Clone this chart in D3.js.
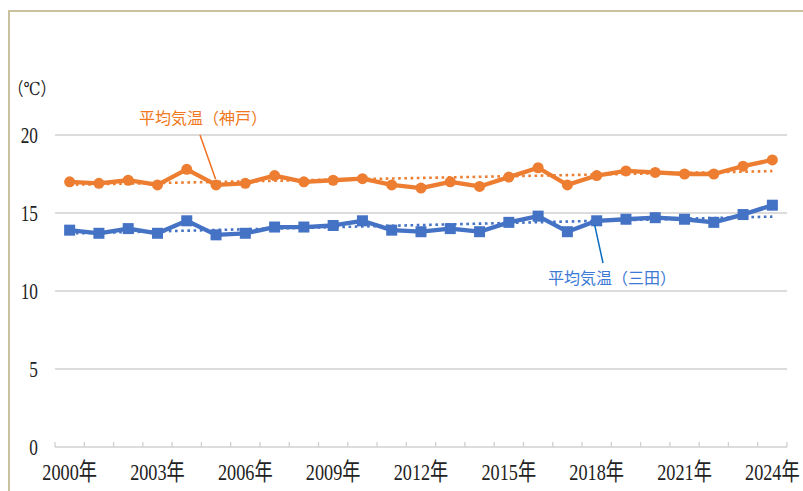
<!DOCTYPE html>
<html lang="ja">
<head>
<meta charset="utf-8">
<title>平均気温</title>
<script src="https://cdn.jsdelivr.net/npm/d3@7"></script>
<style>
  body { margin:0; background:#fff; }
  .num { font-family:"Liberation Serif","DejaVu Serif","Noto Sans CJK JP",serif; fill:#222; }
  .lbl { font-family:"Noto Sans CJK JP",sans-serif; font-size:16px; }
</style>
</head>
<body>
<script>
var years = ["2000","2001","2002","2003","2004","2005","2006","2007","2008","2009","2010","2011","2012",
             "2013","2014","2015","2016","2017","2018","2019","2020","2021","2022","2023","2024"]
var kobe  = [17.0,16.9,17.1,16.8,17.8,16.8,16.9,17.4,17.0,17.1,17.2,16.8,16.6,
             17.0,16.7,17.3,17.9,16.8,17.4,17.7,17.6,17.5,17.5,18.0,18.4]
var sanda = [13.9,13.7,14.0,13.7,14.5,13.6,13.7,14.1,14.1,14.2,14.5,13.9,13.8,
             14.0,13.8,14.4,14.8,13.8,14.5,14.6,14.7,14.6,14.4,14.9,15.5]
var yTicks = [0,5,10,15,20]
var xLabelYears = ["2000","2003","2006","2009","2012","2015","2018","2021","2024"]

var width = 803, height = 491
var padL = 55, padR = 787, padT = 135, padB = 447

var svg = d3.select("body").append("svg")
            .attr("width",width)
            .attr("height",height)

// frame
svg.append("rect")
   .attr("x",9).attr("y",11)
   .attr("width",width).attr("height",height)
   .attr("fill","none")
   .attr("stroke","#c9c29e")
   .attr("stroke-width",2)

var x = d3.scaleBand().domain(years).range([padL,padR])
var y = d3.scaleLinear().domain([0,20]).range([padB,padT])
function cx(d){ return x(d) + x.bandwidth()/2 }

// grid
svg.selectAll(".grid")
   .data(yTicks.filter(function(d){ return d>0 }))
   .enter().append("line")
   .attr("x1",padL).attr("x2",padR)
   .attr("y1",function(d){ return y(d) })
   .attr("y2",function(d){ return y(d) })
   .attr("stroke","#d0d0d0").attr("stroke-width",1.3)

// x axis line and ticks
svg.append("line")
   .attr("x1",padL).attr("x2",padR)
   .attr("y1",y(0)).attr("y2",y(0))
   .attr("stroke","#d0d0d0").attr("stroke-width",1.3)
var bounds = years.map(function(d){ return x(d) }).concat([padR])
svg.selectAll(".tick")
   .data(bounds)
   .enter().append("line")
   .attr("x1",function(d){ return d }).attr("x2",function(d){ return d })
   .attr("y1",y(0)).attr("y2",y(0)-5)
   .attr("stroke","#d0d0d0").attr("stroke-width",1.3)

// y labels (tall condensed serif)
svg.selectAll(".ylab")
   .data(yTicks)
   .enter().append("text")
   .attr("class","num")
   .attr("transform",function(d){ return "translate(38,"+(y(d)+8)+") scale(0.72,1)" })
   .attr("text-anchor","end")
   .style("font-size","24px")
   .text(function(d){ return d })

svg.append("text")
   .attr("class","num")
   .attr("transform","translate(32,95) scale(0.85,1)")
   .attr("text-anchor","middle")
   .style("font-size","18px")
   .text("（℃）")

svg.selectAll(".xlab")
   .data(xLabelYears)
   .enter().append("text")
   .attr("class","num")
   .attr("transform",function(d){ return "translate("+cx(d)+",480) scale(0.76,1)" })
   .attr("text-anchor","middle")
   .style("font-size","24px")
   .text(function(d){ return d+"年" })

// linear trend
function trend(vals){
  var n = vals.length, sx=0, sy=0, sxy=0, sxx=0
  vals.forEach(function(v,i){ sx+=i; sy+=v; sxy+=i*v; sxx+=i*i })
  var b = (n*sxy - sx*sy)/(n*sxx - sx*sx)
  var a = (sy - b*sx)/n
  return [[0,a],[n-1,a+b*(n-1)]]
}

var series = [
  {name:"kobe", vals:kobe, color:"#ed7d31", shape:"circle"},
  {name:"sanda", vals:sanda, color:"#4472c4", shape:"square"}
]

var line = d3.line()
  .x(function(d,i){ return cx(years[i]) })
  .y(function(d){ return y(d) })

series.forEach(function(s){
  var t = trend(s.vals)
  svg.append("line")
     .attr("x1",cx(years[t[0][0]])).attr("y1",y(t[0][1]))
     .attr("x2",cx(years[t[1][0]])).attr("y2",y(t[1][1]))
     .attr("stroke",s.color).attr("stroke-width",2.6)
     .attr("stroke-dasharray","2.6 3.6")

  svg.append("path")
     .datum(s.vals)
     .attr("d",line)
     .attr("fill","none")
     .attr("stroke",s.color)
     .attr("stroke-width",4.3)
     .attr("stroke-linejoin","round")

  if (s.shape=="circle"){
    svg.selectAll(".m-"+s.name)
       .data(s.vals).enter().append("circle")
       .attr("cx",function(d,i){ return cx(years[i]) })
       .attr("cy",function(d){ return y(d) })
       .attr("r",5.5)
       .attr("fill",s.color)
  } else {
    svg.selectAll(".m-"+s.name)
       .data(s.vals).enter().append("rect")
       .attr("x",function(d,i){ return cx(years[i])-5.5 })
       .attr("y",function(d){ return y(d)-5.5 })
       .attr("width",11).attr("height",11)
       .attr("fill",s.color)
  }
})

// series labels with leader lines
svg.append("line")
   .attr("x1",200).attr("y1",135).attr("x2",cx("2005")-0.5).attr("y2",y(kobe[5])-6)
   .attr("stroke","#f07020").attr("stroke-width",1.5)
svg.append("text")
   .attr("class","lbl")
   .attr("x",139).attr("y",124)
   .attr("fill","#f07820")
   .text("平均気温（神戸）")

svg.append("line")
   .attr("x1",cx("2018")-2).attr("y1",y(sanda[18])+4).attr("x2",603).attr("y2",263)
   .attr("stroke","#0a6cbf").attr("stroke-width",1.5)
svg.append("text")
   .attr("class","lbl")
   .attr("x",548).attr("y",284)
   .attr("fill","#3c7ad6")
   .text("平均気温（三田）")
</script>
</body>
</html>
